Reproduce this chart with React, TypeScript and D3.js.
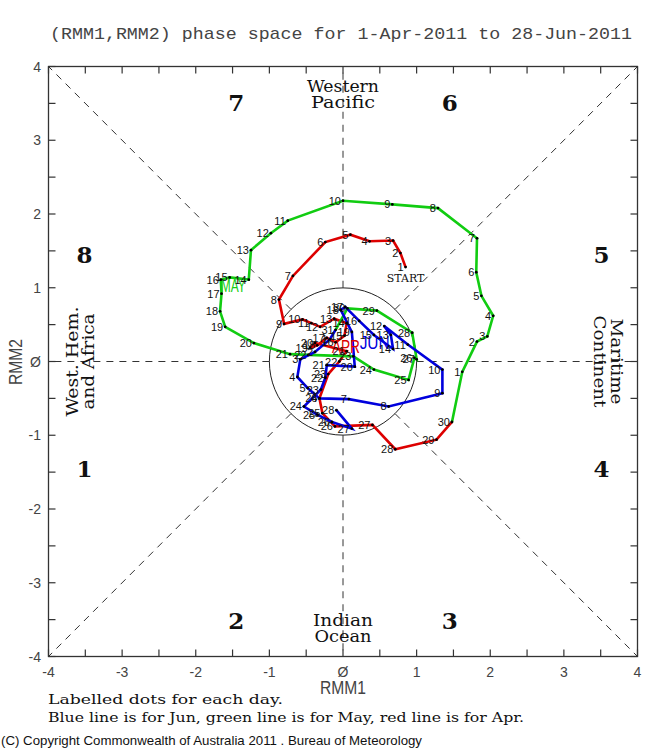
import * as d3 from "d3";

// chart text
const title = "(RMM1,RMM2) phase space for  1-Apr-2011 to 28-Jun-2011";
const axisTickValues = [-4, -3, -2, -1, 0, 1, 2, 3, 4];
const axisTickLabels = ["-4", "-3", "-2", "-1", "Ø", "1", "2", "3", "4"];

// April (red)
const aprRmm1 = [0.85, 0.78, 0.68, 0.36, 0.10, -0.24, -0.68, -0.87, -0.80, -0.55,
  -0.43, -0.31, -0.12, 0.05, 0.02, -0.10, -0.22, -0.35, -0.45, -0.38,
  0.05, -0.05, -0.20, -0.32, -0.28, -0.11, 0.40, 0.71, 1.27, 1.48];
const aprRmm2 = [1.28, 1.47, 1.64, 1.63, 1.72, 1.62, 1.16, 0.84, 0.51, 0.57,
  0.52, 0.47, 0.58, 0.52, 0.35, 0.26, 0.32, 0.22, 0.18, 0.25,
  0.14, 0.00, -0.17, -0.50, -0.70, -0.88, -0.86, -1.19, -1.06, -0.82];

// May (green)
const mayRmm1 = [1.62, 1.82, 1.96, 2.04, 1.88, 1.81, 1.82, 1.29, 0.67, 0.00,
  -0.75, -0.98, -1.25, -1.28, -1.54, -1.66, -1.65, -1.67, -1.60, -1.21,
  -0.72, -0.47, 0.14, 0.42, 0.89, 0.97, 1.00, 0.94, 0.46, 0.06, -0.10];
const mayRmm2 = [-0.14, 0.27, 0.34, 0.62, 0.89, 1.21, 1.67, 2.08, 2.13, 2.18,
  1.91, 1.74, 1.51, 1.11, 1.14, 1.11, 0.92, 0.68, 0.47, 0.25,
  0.10, 0.09, 0.07, -0.11, -0.25, 0.05, 0.03, 0.39, 0.69, 0.72, 0.43];

// June (blue)
const junRmm1 = [-0.18, -0.38, -0.58, -0.62, -0.48, -0.32, 0.08, 0.62, 1.35, 1.35,
  0.88, 0.56, 0.65, 0.68, 0.42, 0.22, 0.03, -0.03, 0.12, 0.16,
  -0.22, -0.24, -0.30, -0.53, -0.35, -0.15, 0.12, -0.09];
const junRmm2 = [0.30, 0.13, 0.03, -0.21, -0.36, -0.50, -0.51, -0.61, -0.43, -0.11,
  0.23, 0.48, 0.36, 0.17, 0.36, 0.55, 0.74, 0.70, 0.40, -0.07,
  -0.05, -0.22, -0.38, -0.61, -0.72, -0.82, -0.91, -0.66];

const months = [
  { name: "APR", color: "#dd0000", rmm1: aprRmm1, rmm2: aprRmm2, labelX: 0.04, labelY: 0.19, labelW: 28 },
  { name: "MAY", color: "#11cc11", rmm1: mayRmm1, rmm2: mayRmm2, labelX: -1.49, labelY: 1.02, labelW: 25 },
  { name: "JUN", color: "#0000dd", rmm1: junRmm1, rmm2: junRmm2, labelX: 0.43, labelY: 0.25, labelW: 30 },
];

// phase numbers and region names
const phaseNames = ["1", "2", "3", "4", "5", "6", "7", "8"];
const phaseX = [-3.51, -1.45, 1.45, 3.51, 3.51, 1.45, -1.45, -3.51];
const phaseY = [-1.45, -3.51, -3.51, -1.45, 1.45, 3.51, 3.51, 1.45];

const W = 654;
const H = 750;

const x = d3.scaleLinear().domain([-4, 4]).range([48.5, 637.5]);
const y = d3.scaleLinear().domain([-4, 4]).range([656.5, 66.5]);

type Pt = [number, number];

const line = d3
  .line<Pt>()
  .x((d) => x(d[0]))
  .y((d) => y(d[1]));

const serif = "'DejaVu Serif', serif";
const sans = "'Liberation Sans', Arial, sans-serif";

export default function App() {
  const minorTicks = d3.range(-4, 4.001, 0.5);
  const r = x(1) - x(0);

  // dashed spokes from unit circle to the frame
  const spokes = d3.range(0, 8).map((i) => {
    const a = (i * Math.PI) / 4;
    const c = Math.cos(a);
    const s = Math.sin(a);
    const k = 4 / Math.max(Math.abs(c), Math.abs(s));
    return { x1: c, y1: s, x2: c * k, y2: s * k };
  });

  // each month's line starts from the previous month's last day
  const paths = months.map((m, mi) => {
    const pts: Pt[] = m.rmm1.map((v, i) => [v, m.rmm2[i]]);
    if (mi > 0) {
      const p = months[mi - 1];
      pts.unshift([p.rmm1[p.rmm1.length - 1], p.rmm2[p.rmm2.length - 1]]);
    }
    return { color: m.color, d: line(pts) || "" };
  });

  return (
    <svg
      width={W}
      height={H}
      style={{ position: "absolute", left: 0, top: 0, background: "#fff" }}
    >
      <rect x={0} y={0} width={W} height={H} fill="#fff" />
      <text
        x={50}
        y={39}
        fontFamily="'Liberation Mono', monospace"
        fontSize={17}
        fill="#444"
        textLength={582}
        lengthAdjust="spacingAndGlyphs"
      >
        {title}
      </text>

      {/* spokes */}
      {spokes.map((s, i) => (
        <line
          key={i}
          x1={x(s.x1)}
          y1={y(s.y1)}
          x2={x(s.x2)}
          y2={y(s.y2)}
          stroke="#333"
          strokeWidth={1}
          strokeDasharray="7,6"
        />
      ))}
      <circle cx={x(0)} cy={y(0)} r={r} fill="none" stroke="#222" strokeWidth={1} />

      {/* frame + ticks */}
      <rect x={x(-4)} y={y(4)} width={x(4) - x(-4)} height={y(-4) - y(4)} fill="none" stroke="#333" strokeWidth={1.3} />
      {minorTicks.map((t) => (
        <g key={t} stroke="#333" strokeWidth={1.2}>
          <line x1={x(t)} x2={x(t)} y1={y(-4)} y2={y(-4) - 7} />
          <line x1={x(t)} x2={x(t)} y1={y(4)} y2={y(4) + 7} />
          <line x1={x(-4)} x2={x(-4) + 7} y1={y(t)} y2={y(t)} />
          <line x1={x(4)} x2={x(4) - 7} y1={y(t)} y2={y(t)} />
        </g>
      ))}
      {axisTickValues.map((t, i) => (
        <g key={t} fontFamily={sans} fontSize={14} fill="#444">
          <text x={x(t)} y={677} textAnchor="middle">
            {axisTickLabels[i]}
          </text>
          <text x={41} y={y(t) + 5} textAnchor="end">
            {axisTickLabels[i]}
          </text>
        </g>
      ))}
      <text
        x={15}
        y={362}
        transform="rotate(-90 15 362)"
        textAnchor="middle"
        dominantBaseline="central"
        fontFamily={sans}
        fontSize={19}
        fill="#444"
        textLength={46}
        lengthAdjust="spacingAndGlyphs"
      >
        RMM2
      </text>
      <text
        x={343}
        y={694}
        textAnchor="middle"
        fontFamily={sans}
        fontSize={19}
        fill="#444"
        textLength={46}
        lengthAdjust="spacingAndGlyphs"
      >
        RMM1
      </text>

      {/* phase numbers */}
      {phaseNames.map((p, i) => (
        <text
          key={p}
          x={x(phaseX[i])}
          y={y(phaseY[i])}
          textAnchor="middle"
          dominantBaseline="central"
          fontFamily={serif}
          fontWeight="bold"
          fontSize={23}
          fill="#111"
        >
          {p}
        </text>
      ))}

      {/* region names */}
      <g fontFamily={serif} fontSize={16} fill="#111" textAnchor="middle" dominantBaseline="central">
        <text x={x(0)} y={y(3.73)} textLength={72} lengthAdjust="spacingAndGlyphs">Western</text>
        <text x={x(0)} y={y(3.51)} textLength={64} lengthAdjust="spacingAndGlyphs">Pacific</text>
        <text x={x(0)} y={y(-3.51)} textLength={60} lengthAdjust="spacingAndGlyphs">Indian</text>
        <text x={x(0)} y={y(-3.73)} textLength={57} lengthAdjust="spacingAndGlyphs">Ocean</text>
        <text x={x(-3.68)} y={y(0)} transform={`rotate(-90 ${x(-3.68)} ${y(0)})`} textLength={110} lengthAdjust="spacingAndGlyphs">West. Hem.</text>
        <text x={x(-3.46)} y={y(0)} transform={`rotate(-90 ${x(-3.46)} ${y(0)})`} textLength={96} lengthAdjust="spacingAndGlyphs">and Africa</text>
        <text x={x(3.71)} y={y(0)} transform={`rotate(90 ${x(3.71)} ${y(0)})`} textLength={86} lengthAdjust="spacingAndGlyphs">Maritime</text>
        <text x={x(3.48)} y={y(0)} transform={`rotate(90 ${x(3.48)} ${y(0)})`} textLength={92} lengthAdjust="spacingAndGlyphs">Continent</text>
      </g>

      {/* trajectories */}
      {paths.map((p, i) => (
        <path key={i} d={p.d} fill="none" stroke={p.color} strokeWidth={2.6} strokeLinejoin="miter" />
      ))}

      {/* month labels */}
      {months.map((m) => (
        <text
          key={m.name}
          x={x(m.labelX)}
          y={y(m.labelY)}
          textAnchor="middle"
          dominantBaseline="central"
          fontFamily={sans}
          fontSize={18}
          fill={m.color}
          textLength={m.labelW}
          lengthAdjust="spacingAndGlyphs"
        >
          {m.name}
        </text>
      ))}

      {/* day dots + labels */}
      {months.map((m) =>
        m.rmm1.map((v, i) => (
          <g key={m.name + i}>
            <circle cx={x(v)} cy={y(m.rmm2[i])} r={1.4} fill="#000" />
            <text
              x={x(v) - 2}
              y={y(m.rmm2[i]) + 4}
              textAnchor="end"
              fontFamily={sans}
              fontSize={11}
              fill="#111"
            >
              {i + 1}
            </text>
          </g>
        ))
      )}
      <text
        x={x(aprRmm1[0])}
        y={y(aprRmm2[0]) + 15}
        textAnchor="middle"
        fontFamily={serif}
        fontSize={11}
        fill="#111"
      >
        START
      </text>

      {/* footnotes */}
      <text x={48} y={704} fontFamily={serif} fontSize={13} fill="#111" textLength={235} lengthAdjust="spacingAndGlyphs">
        Labelled dots for each day.
      </text>
      <text x={48} y={722} fontFamily={serif} fontSize={13} fill="#111" textLength={476} lengthAdjust="spacingAndGlyphs">
        Blue line is for Jun, green line is for May, red line is for Apr.
      </text>
      <text x={1} y={745} fontFamily={sans} fontSize={13} fill="#111" textLength={421} lengthAdjust="spacingAndGlyphs">
        (C) Copyright Commonwealth of Australia 2011 . Bureau of Meteorology
      </text>
    </svg>
  );
}
